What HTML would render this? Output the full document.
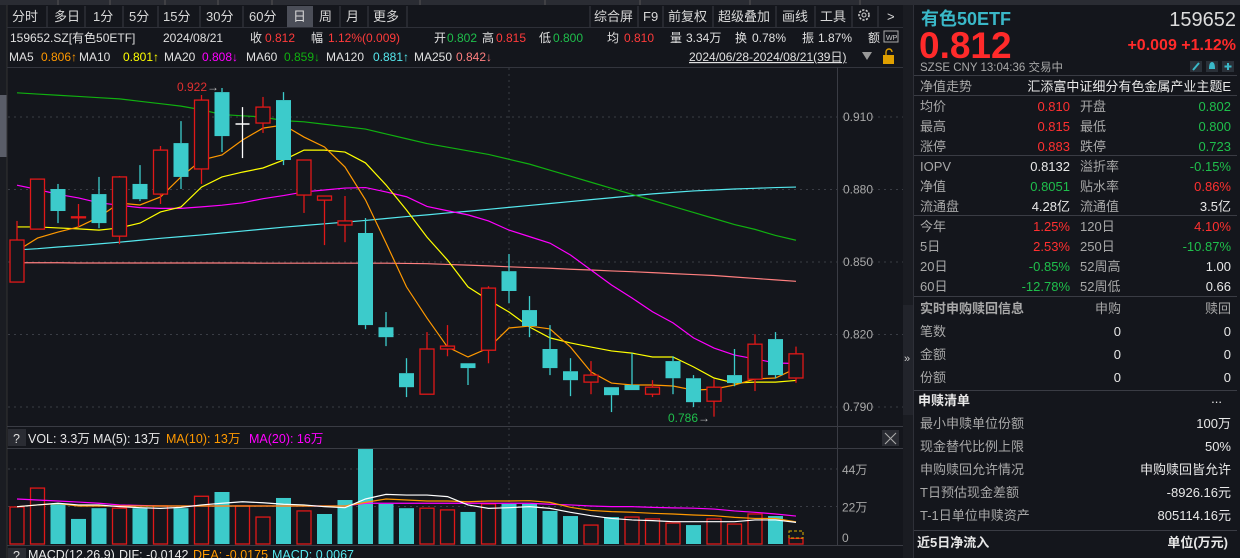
<!DOCTYPE html>
<html><head><meta charset="utf-8">
<style>
html,body{margin:0;padding:0;background:#14161c;overflow:hidden;}
svg{display:block;font-family:"Liberation Sans","Noto Sans CJK SC",sans-serif;}
</style></head>
<body>
<svg id="root" width="1240" height="558" viewBox="0 0 1240 558" xmlns="http://www.w3.org/2000/svg">
<rect x="0" y="0" width="1240" height="558" fill="#14161c"/>
<g>
<rect x="0" y="0" width="1240" height="5" fill="#2a2c33"/>
<line x1="58" y1="0" x2="58" y2="5" stroke="#555"/><line x1="110" y1="0" x2="110" y2="5" stroke="#555"/><line x1="165" y1="0" x2="165" y2="5" stroke="#555"/><line x1="218" y1="0" x2="218" y2="5" stroke="#555"/><line x1="272" y1="0" x2="272" y2="5" stroke="#555"/><line x1="420" y1="0" x2="420" y2="5" stroke="#555"/><line x1="545" y1="0" x2="545" y2="5" stroke="#555"/><line x1="640" y1="0" x2="640" y2="5" stroke="#555"/><line x1="750" y1="0" x2="750" y2="5" stroke="#555"/><line x1="860" y1="0" x2="860" y2="5" stroke="#555"/>
</g>
<g>
<rect x="0" y="5" width="7" height="553" fill="#1a1c22"/>
<rect x="0" y="95" width="7" height="62" fill="#5a5d68"/>
<line x1="7" y1="5" x2="7" y2="558" stroke="#333"/>
</g>
<g id="toolbar" font-size="13" fill="#d8d8d8">
<rect x="287" y="6" width="26" height="21" fill="#4b4e58"/>
<text x="12" y="21">分时</text>
<text x="54" y="21">多日</text>
<text x="93" y="21">1分</text>
<text x="129" y="21">5分</text>
<text x="163" y="21">15分</text>
<text x="206" y="21">30分</text>
<text x="249" y="21">60分</text>
<text x="293" y="21">日</text>
<text x="319" y="21">周</text>
<text x="346" y="21">月</text>
<text x="373" y="21">更多</text>
<g stroke="#3a3c44"><line x1="47" y1="6" x2="47" y2="27"/><line x1="85" y1="6" x2="85" y2="27"/><line x1="123" y1="6" x2="123" y2="27"/><line x1="158" y1="6" x2="158" y2="27"/><line x1="200" y1="6" x2="200" y2="27"/><line x1="243" y1="6" x2="243" y2="27"/><line x1="340" y1="6" x2="340" y2="27"/><line x1="368" y1="6" x2="368" y2="27"/><line x1="407" y1="6" x2="407" y2="27"/>
<line x1="590" y1="6" x2="590" y2="27"/><line x1="638" y1="6" x2="638" y2="27"/><line x1="663" y1="6" x2="663" y2="27"/><line x1="713" y1="6" x2="713" y2="27"/><line x1="776" y1="6" x2="776" y2="27"/><line x1="815" y1="6" x2="815" y2="27"/><line x1="852" y1="6" x2="852" y2="27"/><line x1="878" y1="6" x2="878" y2="27"/></g>
<text x="594" y="21">综合屏</text>
<text x="643" y="21">F9</text>
<text x="668" y="21">前复权</text>
<text x="718" y="21">超级叠加</text>
<text x="782" y="21">画线</text>
<text x="820" y="21">工具</text>
<g><circle cx="864" cy="15" r="5" fill="none" stroke="#ccc" stroke-width="1.6" stroke-dasharray="2.2 1.4"/><circle cx="864" cy="15" r="2" fill="none" stroke="#ccc"/></g>
<text x="887" y="21">&gt;</text>
</g>
<line x1="7" y1="27.5" x2="903" y2="27.5" stroke="#2e3038"/>
<g font-size="12" fill="#e0e0e0">
<text x="10" y="42">159652.SZ[有色50ETF]</text>
<text x="163" y="42">2024/08/21</text>
<text x="250" y="42">收</text><text x="265" y="42" fill="#ff3b3b">0.812</text>
<text x="311" y="42">幅</text><text x="328" y="42" fill="#ff3b3b">1.12%(0.009)</text>
<text x="434" y="42">开</text><text x="447" y="42" fill="#1fbf4c">0.802</text>
<text x="482" y="42">高</text><text x="496" y="42" fill="#ff3b3b">0.815</text>
<text x="539" y="42">低</text><text x="553" y="42" fill="#1fbf4c">0.800</text>
<text x="607" y="42">均</text><text x="624" y="42" fill="#ff3b3b">0.810</text>
<text x="670" y="42">量</text><text x="686" y="42">3.34万</text>
<text x="735" y="42">换</text><text x="752" y="42">0.78%</text>
<text x="802" y="42">振</text><text x="818" y="42">1.87%</text>
<text x="868" y="42">额</text>
<rect x="884" y="31" width="14" height="11" fill="none" stroke="#aaa"/><text x="886" y="40" font-size="7" fill="#ccc">WP</text>
</g>
<g font-size="12">
<text x="9" y="61" fill="#e0e0e0">MA5</text><text x="41" y="61" fill="#ff9900">0.806↑</text>
<text x="79" y="61" fill="#e0e0e0">MA10</text><text x="123" y="61" fill="#ffff00">0.801↑</text>
<text x="164" y="61" fill="#e0e0e0">MA20</text><text x="202" y="61" fill="#ff00ff">0.808↓</text>
<text x="246" y="61" fill="#e0e0e0">MA60</text><text x="284" y="61" fill="#10b010">0.859↓</text>
<text x="326" y="61" fill="#e0e0e0">MA120</text><text x="373" y="61" fill="#55e8ee">0.881↑</text>
<text x="414" y="61" fill="#e0e0e0">MA250</text><text x="456" y="61" fill="#ff7f7f">0.842↓</text>
<text x="689" y="61" fill="#e0e0e0" text-decoration="underline">2024/06/28-2024/08/21(39日)</text>
<path d="M862 52 L872 52 L867 60 Z" fill="#999"/>
<g><rect x="883" y="55" width="11" height="9" fill="#e0a000"/><path d="M886 55 v-3 a3 3 0 0 1 6 0" fill="none" stroke="#e0a000" stroke-width="1.4"/></g>
</g>
<line x1="7" y1="67.5" x2="903" y2="67.5" stroke="#33353d"/>
<g id="price-grid"></g>
<g id="price-axis" font-size="12" fill="#a8a8a8"></g>
<g id="ma-lines"></g>
<g id="candles"></g>
<g font-size="12">
<text x="177" y="91" fill="#e03030">0.922</text>
<text x="207" y="91" fill="#bbb">→</text>
<text x="668" y="422" fill="#1fbf4c">0.786</text>
<text x="698" y="422" fill="#bbb">→</text>
</g>
<line x1="837.5" y1="67" x2="837.5" y2="545" stroke="#3a3c44"/>
<line x1="7" y1="426.5" x2="903" y2="426.5" stroke="#3a3c44"/>
<g font-size="12.5">
<rect x="8" y="429" width="18" height="17" fill="#2a2c33"/><text x="13" y="443" fill="#ddd">?</text>
<text x="28" y="443" fill="#e8e8e8">VOL: 3.3万</text>
<text x="93" y="443" fill="#e8e8e8">MA(5): 13万</text>
<text x="166" y="443" fill="#ff9900">MA(10): 13万</text>
<text x="249" y="443" fill="#ff00ff">MA(20): 16万</text>
</g>
<g><rect x="882" y="430" width="17" height="16" fill="#2a2c33"/><path d="M885 433 L896 444 M896 433 L885 444" stroke="#aaa" stroke-width="1.1"/></g>
<line x1="7" y1="448.5" x2="903" y2="448.5" stroke="#3a3c44"/>
<g id="vol-grid"></g>
<g id="vol-axis" font-size="12" fill="#a8a8a8"></g>
<g id="vol-bars"></g>
<g id="vol-ma"></g>
<line x1="7" y1="545.5" x2="903" y2="545.5" stroke="#3a3c44"/>
<g font-size="12.5">
<rect x="8" y="548" width="18" height="12" fill="#2a2c33"/><text x="13" y="560" fill="#ddd">?</text>
<text x="28" y="559" fill="#e8e8e8">MACD(12,26,9)</text>
<text x="119" y="559" fill="#e8e8e8">DIF: -0.0142</text>
<text x="193" y="559" fill="#ff9900">DEA: -0.0175</text>
<text x="272" y="559" fill="#55e8ee">MACD: 0.0067</text>
</g>
<g>
<rect x="903" y="5" width="10" height="553" fill="#1a1c22"/>
<rect x="903" y="305" width="10" height="110" fill="#22242b"/>
<text x="904" y="362" font-size="11" fill="#ccc">»</text>
</g>
<line x1="913.5" y1="5" x2="913.5" y2="558" stroke="#2e3038"/>
<g>
<text x="921" y="25" font-size="18" font-weight="bold" fill="#3ab8c8">有色50ETF</text>
<text x="1236" y="26" font-size="20" fill="#dcdcdc" text-anchor="end">159652</text>
<text x="919" y="58" font-size="37" font-weight="bold" fill="#ff2a2a">0.812</text>
<text x="1236" y="50" font-size="16" font-weight="bold" fill="#ff2a2a" text-anchor="end">+0.009  +1.12%</text>
<text x="920" y="71" font-size="11.5" fill="#a8a8a8">SZSE   CNY   13:04:36   交易中</text>
<rect x="1190" y="61" width="12" height="11" fill="#2a3038"/><path d="M1193 70 L1199 63" stroke="#3ab8c8" stroke-width="2"/>
<rect x="1206" y="61" width="12" height="11" fill="#2a3038"/><path d="M1209 69 Q1209 62 1212 62 Q1215 62 1215 69 Z" fill="#3ab8c8"/>
<rect x="1222" y="61" width="12" height="11" fill="#2a3038"/><path d="M1228 63 V70 M1224.5 66.5 H1231.5" stroke="#3ab8c8" stroke-width="2"/>
</g>
<g id="info-table" font-size="13"></g>
</svg>
<script>
// ---- price data ----
const opens=[0.8417,0.8636,0.8802,0.8686,0.8781,0.8607,0.8823,0.8781,0.8992,0.8885,0.9203,0.9071,0.9075,0.9170,0.8777,0.8756,0.8653,0.8620,0.8230,0.8040,0.7953,0.8140,0.8081,0.8135,0.8462,0.8301,0.8140,0.8048,0.8003,0.7982,0.7991,0.7953,0.8090,0.8019,0.7924,0.8032,0.8015,0.8181,0.802];
const closes=[0.8591,0.8843,0.8711,0.8687,0.8661,0.8852,0.8760,0.8963,0.8852,0.9170,0.9021,0.9071,0.9141,0.8922,0.8922,0.8773,0.8670,0.8239,0.8189,0.7982,0.8140,0.8152,0.8061,0.8392,0.8380,0.8235,0.8061,0.8011,0.8032,0.7949,0.7970,0.7982,0.8019,0.7920,0.7982,0.7999,0.8160,0.8032,0.812];
const highs=[0.8670,0.8843,0.8823,0.8740,0.8852,0.8856,0.8901,0.8980,0.9083,0.9191,0.922,0.9141,0.9183,0.9203,0.8922,0.8773,0.8773,0.8682,0.8293,0.8102,0.8210,0.8239,0.8081,0.8400,0.8533,0.8359,0.8239,0.8102,0.8090,0.7982,0.8123,0.8011,0.8110,0.8032,0.8015,0.8140,0.8201,0.8210,0.815];
const lows=[0.8417,0.8636,0.8661,0.8645,0.8640,0.8574,0.8752,0.8740,0.8802,0.8823,0.8955,0.8930,0.9034,0.8901,0.8703,0.8570,0.8582,0.8222,0.8152,0.7941,0.7953,0.8110,0.7991,0.8081,0.8330,0.8189,0.8032,0.7945,0.7953,0.7879,0.7970,0.7941,0.7953,0.7900,0.7860,0.7986,0.7966,0.8019,0.800];
const ma5=[0.8546,0.8599,0.8624,0.8645,0.8686,0.8744,0.8736,0.8769,0.8852,0.8922,0.8943,0.9005,0.9054,0.9067,0.9017,0.8976,0.8893,0.8757,0.8579,0.8397,0.8268,0.8148,0.8107,0.8144,0.8227,0.8235,0.8223,0.8148,0.8045,0.7999,0.7991,0.7991,0.7987,0.7970,0.7974,0.7991,0.8016,0.8020,0.806];
const ma10=[0.8645,0.8645,0.8641,0.8637,0.8632,0.8641,0.8661,0.8707,0.8728,0.8810,0.8852,0.8872,0.8889,0.8922,0.8963,0.8963,0.8955,0.8910,0.8819,0.8715,0.8603,0.8508,0.8397,0.8343,0.8293,0.8231,0.8186,0.8165,0.8148,0.8132,0.8123,0.8107,0.8107,0.8066,0.8020,0.7999,0.8003,0.8003,0.801];
const ma20=[0.8818,0.8800,0.8780,0.8765,0.8745,0.8735,0.8725,0.8722,0.8722,0.8728,0.8735,0.8745,0.8762,0.8775,0.8790,0.8798,0.8806,0.8808,0.8790,0.8770,0.8730,0.8712,0.8695,0.8670,0.8632,0.8605,0.8578,0.8529,0.8467,0.8405,0.8351,0.8294,0.8248,0.8186,0.8144,0.8115,0.8099,0.8082,0.808];
const ma60=[0.920,0.9195,0.919,0.9185,0.918,0.9175,0.9165,0.9155,0.9145,0.913,0.911,0.9105,0.910,0.9085,0.908,0.907,0.906,0.905,0.903,0.901,0.899,0.8975,0.896,0.8945,0.8925,0.8905,0.888,0.8855,0.883,0.8805,0.878,0.8755,0.873,0.8705,0.868,0.8655,0.8635,0.861,0.859];
const ma120=[0.8550,0.8555,0.8562,0.8568,0.8575,0.8582,0.8590,0.8598,0.8605,0.8612,0.8620,0.8628,0.8636,0.8644,0.8651,0.8658,0.8665,0.8672,0.8680,0.8688,0.8695,0.8703,0.8710,0.8718,0.8726,0.8734,0.8742,0.8750,0.8758,0.8766,0.8774,0.8782,0.8788,0.8794,0.8798,0.8802,0.8805,0.8808,0.881];
const ma250=[0.8497,0.8497,0.8497,0.8496,0.8496,0.8496,0.8496,0.8496,0.8496,0.8496,0.8496,0.8496,0.8495,0.8495,0.8495,0.8495,0.8495,0.8495,0.8495,0.8494,0.8493,0.8490,0.8487,0.8484,0.8480,0.8477,0.8474,0.8470,0.8467,0.8463,0.8460,0.8456,0.8452,0.8448,0.8444,0.8438,0.8432,0.8426,0.842];
const priceTicks=[0.910,0.880,0.850,0.820,0.790];
// ---- volume data (万) ----
const vols=[21.7,32.8,23.5,14.7,21,21,21,22.3,21,28,30.5,22.3,15.8,27,19.4,17.6,25.8,55.7,23.5,21,21,20,18.8,23.5,23.5,23.5,19.4,16.4,11.1,15.8,15.8,14.7,12.3,11.1,14.7,11.7,17.6,16.4,3.3];
const volUp=[1,1,0,0,0,1,0,1,0,1,0,1,1,0,1,0,0,0,0,0,1,1,0,1,0,0,0,0,1,0,1,1,1,0,1,1,1,0,1];
const volMa5=[21.9,22.9,23.9,22.9,22.9,21.9,21.3,20.9,21.5,22.9,23.9,24.8,24.2,23.3,22.9,21.9,21.3,26.4,29.1,28.7,28.7,27.8,22.9,20.9,21.3,21.9,20.9,18.6,16.6,15.0,14.1,13.7,13.1,13.1,13.1,13.1,14.1,14.1,12.7];
const volMa10=[21.9,22.9,23.7,22.3,22.3,22.3,22.3,22.3,22.3,22.3,22.3,22.3,22.3,22.3,22.3,22.3,22.3,24.4,26.4,25.8,25.2,25.2,24.8,25.2,25.2,25.4,24.4,21.5,19.7,19.0,18.6,18.0,17.6,17.0,16.6,15.6,15.0,15.0,13.0];
const volMa20=[26.4,25.8,25.2,24.6,23.9,22.9,22.6,22.3,22.3,22.3,22.3,22.3,22.3,22.3,22.3,22.3,22.3,23.9,23.9,23.9,23.9,23.9,23.9,23.9,23.9,23.9,23.3,22.9,22.3,21.9,21.9,21.5,21.2,21.0,20.5,19.4,18.6,17.6,16.4];
const volTicks=[44,22,0];
const volTickLabels=["44万","22万","0"];

const NS="http://www.w3.org/2000/svg";
function mk(tag,attrs,parent){const e=document.createElementNS(NS,tag);for(const k in attrs)e.setAttribute(k,attrs[k]);parent.appendChild(e);return e;}
const X=i=>17+20.5*i;
const PY=p=>117+(0.910-p)*2416.7;
const VY=v=>544-v*1.705;
const RED="#e01818",CYAN="#3ccbcb";

const pg=document.getElementById('price-grid'),pa=document.getElementById('price-axis');
priceTicks.forEach(tk=>{
 const l=mk('line',{x1:8,x2:903,y1:PY(tk),y2:PY(tk),stroke:'#3a3d45','stroke-dasharray':'2 4'},pg);
 
 
 const tx=mk('text',{x:843,y:PY(tk)+4},pa);tx.textContent=tk.toFixed(3);
 
 
});
const vl=mk('line',{x1:509,x2:509,y1:68,y2:545,stroke:'#3a3d45','stroke-dasharray':'2 4'},pg);



const ml=document.getElementById('ma-lines');
[[ma250,'#ff7f7f','ma250-line'],[ma120,'#55e8ee','ma120-line'],[ma60,'#10b010','ma60-line'],[ma20,'#ff00ff','ma20-line'],[ma10,'#ffff00','ma10-line'],[ma5,'#ff9900','ma5-line']].forEach(([arr,c,n])=>{
 const p=mk('polyline',{points:arr.map((v,i)=>X(i)+','+PY(v)).join(' '),fill:'none',stroke:c,'stroke-width':1.2},ml);
 
 
});

const cg=document.getElementById('candles');
opens.forEach((o,i)=>{
 const c=closes[i],x=X(i);
 const col=c>o?RED:(c<o?CYAN:'#ffffff');
 const g=mk('g',{},cg);
 
 
 const top=PY(Math.max(o,c)),bot=PY(Math.min(o,c));
 mk('line',{x1:x,x2:x,y1:PY(highs[i]),y2:top,stroke:col,'stroke-width':1.3},g);
 mk('line',{x1:x,x2:x,y1:bot,y2:PY(lows[i]),stroke:col,'stroke-width':1.3},g);
 if(c>o){mk('rect',{x:x-7,y:top,width:14,height:Math.max(1,bot-top),fill:'#14161c',stroke:col,'stroke-width':1.3},g);}
 else if(c<o){mk('rect',{x:x-7.5,y:top,width:15,height:Math.max(1,bot-top),fill:col},g);}
 else{mk('line',{x1:x-7,x2:x+7,y1:top,y2:top,stroke:col,'stroke-width':1.5},g);}
});

const vg=document.getElementById('vol-grid'),va=document.getElementById('vol-axis');
volTicks.forEach((tk,k)=>{
 if(tk>0){const l=mk('line',{x1:8,x2:837,y1:VY(tk),y2:VY(tk),stroke:'#3a3d45','stroke-dasharray':'2 4'},vg);
 
 }
 const tx=mk('text',{x:842,y:VY(tk)+(tk>0?5:-2)},va);tx.textContent=volTickLabels[k];
 
 
});
const vb=document.getElementById('vol-bars');
vols.forEach((v,i)=>{
 const x=X(i),y=VY(v);let r;
 if(volUp[i]) r=mk('rect',{x:x-7,y:y,width:14,height:544-y,fill:'#14161c',stroke:RED,'stroke-width':1.3},vb);
 else r=mk('rect',{x:x-7.5,y:y,width:15,height:544-y,fill:CYAN},vb);
 
 
});
const est=mk('rect',{x:X(38)-7,y:531,width:14,height:7,fill:'none',stroke:'#e0b000','stroke-dasharray':'3 2'},vb);


const vm=document.getElementById('vol-ma');
[[volMa20,'#ff00ff','vol-ma20-line'],[volMa10,'#ff9900','vol-ma10-line'],[volMa5,'#ffffff','vol-ma5-line']].forEach(([arr,c,n])=>{
 const p=mk('polyline',{points:arr.map((v,i)=>X(i)+','+VY(v)).join(' '),fill:'none',stroke:c,'stroke-width':1.2},vm);
 
 
});

const it=document.getElementById('info-table');
const G="#a8a8a8",W="#e8e8e8",R="#ff3030",GR="#1fbf4c";
function tt(x,y,s,c,anchor,extra){const e=mk('text',Object.assign({x:x,y:y,fill:c,'text-anchor':anchor||'start'},extra||{}),it);e.textContent=s;return e;}
function hr(y){const l=mk('line',{x1:914,x2:1237,y1:y,y2:y,stroke:'#3a3c44'},it);}
hr(75.5);
tt(920,91,'净值走势',G);tt(1231,91,'汇添富中证细分有色金属产业主题E',W,'end');
hr(95.5);
const rows=[
 [111,'均价','0.810',R,'开盘','0.802',GR],[131,'最高','0.815',R,'最低','0.800',GR],[151,'涨停','0.883',R,'跌停','0.723',GR],
 [171,'IOPV','0.8132',W,'溢折率','-0.15%',GR],[191,'净值','0.8051',GR,'贴水率','0.86%',R],[211,'流通盘','4.28亿',W,'流通值','3.5亿',W],
 [231,'今年','1.25%',R,'120日','4.10%',R],[251,'5日','2.53%',R,'250日','-10.87%',GR],[271,'20日','-0.85%',GR,'52周高','1.00',W],[291,'60日','-12.78%',GR,'52周低','0.66',W]];
rows.forEach(r=>{tt(920,r[0],r[1],G);tt(1070,r[0],r[2],r[3],'end');tt(1080,r[0],r[4],G);tt(1231,r[0],r[5],r[6],'end');});
hr(155.5);hr(215.5);hr(296.5);
tt(920,313,'实时申购赎回信息',G,'start',{'font-weight':'bold'});tt(1121,313,'申购',G,'end');tt(1231,313,'赎回',G,'end');
[[336,'笔数'],[359,'金额'],[382,'份额']].forEach(r=>{tt(920,r[0],r[1],G);tt(1121,r[0],'0',W,'end');tt(1231,r[0],'0',W,'end');});
hr(390.5);
tt(918,405,'申赎清单',W,'start',{'font-weight':'bold'});tt(1222,403,'...',W,'end');
[[428,'最小申赎单位份额','100万'],[451,'现金替代比例上限','50%'],[474,'申购赎回允许情况','申购赎回皆允许'],[497,'T日预估现金差额','-8926.16元'],[520,'T-1日单位申赎资产','805114.16元']].forEach(r=>{tt(920,r[0],r[1],G);tt(1231,r[0],r[2],W,'end');});
hr(530.5);
tt(917,547,'近5日净流入',W,'start',{'font-weight':'bold'});tt(1228,547,'单位(万元)',W,'end',{'font-weight':'bold'});
</script>
</body></html>
